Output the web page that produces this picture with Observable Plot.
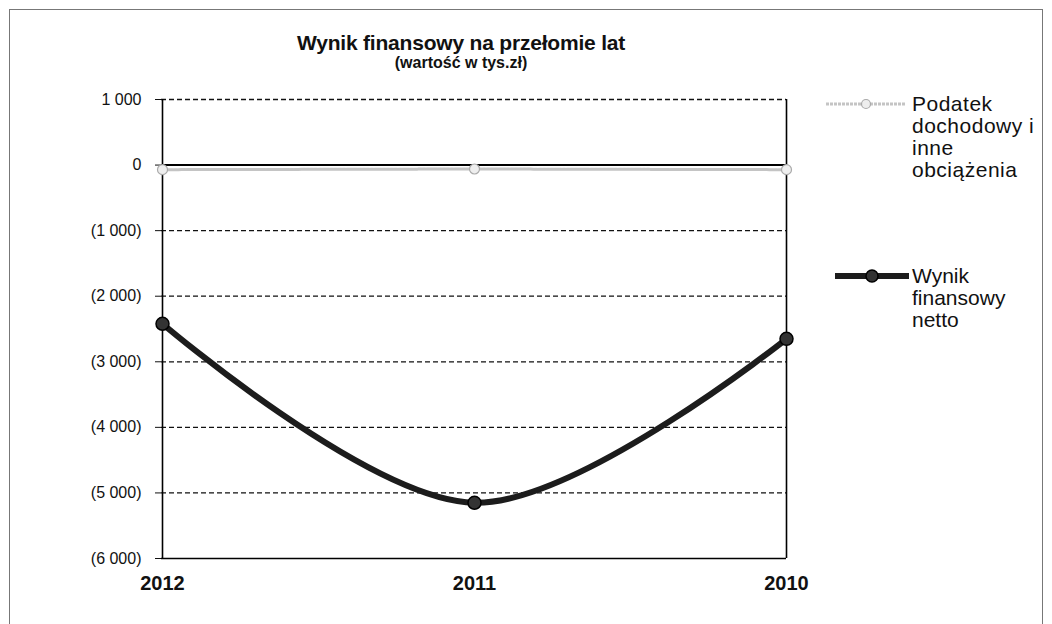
<!DOCTYPE html>
<html><head><meta charset="utf-8">
<script src="https://cdn.jsdelivr.net/npm/d3@7"></script>
<script src="https://cdn.jsdelivr.net/npm/@observablehq/plot@0.6"></script>
<style>
body{margin:0;background:#fff;font-family:"Liberation Sans",Arial,sans-serif;}
#wrap{position:relative;width:1052px;height:624px;overflow:hidden;background:#fff;}
#border{position:absolute;left:9px;top:9px;width:1034px;height:640px;border:1px solid #777;box-sizing:border-box;}
#chart{position:absolute;left:0;top:0;}
.t{position:absolute;text-align:center;font-weight:bold;color:#111;white-space:nowrap;line-height:1;}
.leg{position:absolute;font-size:21px;line-height:22px;color:#111;letter-spacing:0.5px;}
.sw{position:absolute;}
</style></head>
<body>
<div id="wrap">
  <div id="border"></div>
  <div id="chart"></div>
  <div class="t" id="title" style="left:211px;width:500px;top:32px;font-size:21px;letter-spacing:-0.2px;"></div>
  <div class="t" id="subtitle" style="left:261px;width:400px;top:55px;font-size:16px;"></div>
  <svg class="sw" style="left:820px;top:94px" width="90" height="20">
    <line x1="6" x2="86" y1="10" y2="10" stroke="#c4c4c4" stroke-width="3" stroke-dasharray="3,1"/>
    <circle cx="46" cy="10" r="4.5" fill="#eee" stroke="#aaa" stroke-width="1.2"/>
  </svg>
  <div class="leg" id="leg1" style="left:912px;top:93px;width:140px;"></div>
  <svg class="sw" style="left:830px;top:266px" width="84" height="20">
    <line x1="5" x2="79" y1="10" y2="10" stroke="#1c1c1c" stroke-width="6"/>
    <circle cx="42" cy="10" r="6" fill="#333" stroke="#000" stroke-width="1.5"/>
  </svg>
  <div class="leg" id="leg2" style="left:912px;top:265px;width:130px;letter-spacing:0;"></div>
</div>
<script>
const titleText = "Wynik finansowy na przełomie lat";
const subtitleText = "(wartość w tys.zł)";
const years = ["2012", "2011", "2010"];
const wynikNetto = [-2420, -5150, -2650];
const podatek = [-70, -60, -70];
const yTicks = [1000, 0, -1000, -2000, -3000, -4000, -5000, -6000];
const seriesNames = ["Podatek dochodowy i inne obciążenia", "Wynik finansowy netto"];
const legendLines = [["Podatek", "dochodowy i", "inne", "obciążenia"], ["Wynik", "finansowy", "netto"]];

document.getElementById("title").textContent = titleText;
document.getElementById("subtitle").textContent = subtitleText;
document.getElementById("leg1").innerHTML = legendLines[0].join("<br>");
document.getElementById("leg2").innerHTML = legendLines[1].join("<br>");

const num = d3.formatLocale({decimal: ",", thousands: " ", grouping: [3], currency: ["", " zł"]}).format(",");
const fmt = v => v < 0 ? `(${num(-v)})` : num(v);

const wynikData = years.map((y, i) => ({year: y, value: wynikNetto[i], series: seriesNames[1]}));
const podData = years.map((y, i) => ({year: y, value: podatek[i], series: seriesNames[0]}));

const chart = Plot.plot({
  width: 1052, height: 624,
  marginLeft: 161, marginRight: 266, marginTop: 99, marginBottom: 66,
  x: {type: "point", domain: years, padding: 0, label: null},
  y: {domain: [-6000, 1000], label: null},
  style: {fontFamily: "Liberation Sans, Arial, sans-serif", background: "transparent", color: "#111"},
  marks: [
    Plot.ruleY(yTicks.filter(v => v !== 0 && v !== -6000), {stroke: "#111", strokeDasharray: "5,3", strokeWidth: 1.3}),
    Plot.ruleY([-6000], {stroke: "#000", strokeWidth: 1.5}),
    Plot.ruleX([years[0], years[2]], {stroke: "#000", strokeWidth: 1.6}),
    Plot.ruleY([0], {stroke: "#000", strokeWidth: 2}),
    Plot.axisY({ticks: yTicks, tickFormat: fmt, tickSize: 6, tickPadding: 14, fontSize: 16, label: null}),
    Plot.axisX({tickSize: 0, tickPadding: 17, fontSize: 20, fontWeight: "bold", label: null}),
    Plot.line(podData, {x: "year", y: "value", stroke: "#c4c4c4", strokeWidth: 3, strokeDasharray: "3,1"}),
    Plot.dot(podData, {x: "year", y: "value", r: 5, fill: "#eee", stroke: "#aaa", strokeWidth: 1.2}),
    Plot.line(wynikData, {x: "year", y: "value", curve: "catmull-rom", stroke: "#1c1c1c", strokeWidth: 6}),
    Plot.dot(wynikData, {x: "year", y: "value", r: 6.5, fill: "#333", stroke: "#000", strokeWidth: 1.5})
  ]
});
document.getElementById("chart").appendChild(chart);
</script>
</body></html>
